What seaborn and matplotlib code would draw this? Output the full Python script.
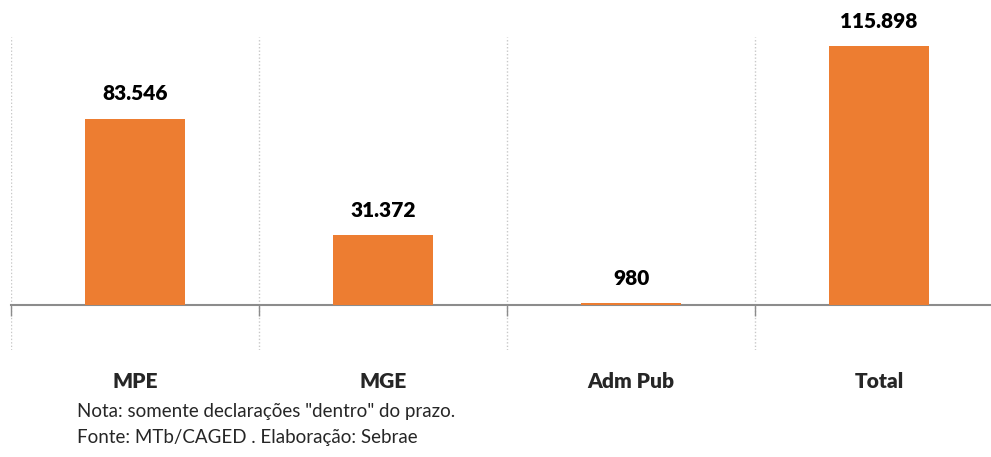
import matplotlib.pyplot as plt
import seaborn as sns
import pandas as pd

categories = ["MPE", "MGE", "Adm Pub", "Total"]
values = [83546, 31372, 980, 115898]
notes = ['Nota: somente declarações "dentro" do prazo.',
         'Fonte: MTb/CAGED . Elaboração: Sebrae']

df = pd.DataFrame({"categoria": categories, "valor": values})

sns.set_theme(style="white")
plt.rcParams['font.family'] = ['Lato', 'DejaVu Sans']

fig = plt.figure(figsize=(9.91, 4.57), dpi=100)
ax = fig.add_axes([11 / 991, 1 - 350 / 457, 992 / 991, 313 / 457])

sns.barplot(data=df, x="categoria", y="valor", color="#ED7D31",
            saturation=1, width=0.4, ax=ax, zorder=3, linewidth=0)

ax.set_ylim(-20000, 120000)
ax.set_xlim(-0.5, 3.5)

# value labels with brazilian thousands separator
labels = [f"{v:,}".replace(",", ".") for v in values]
ax.bar_label(ax.containers[0], labels=labels, padding=11,
             fontsize=15, fontweight="heavy", color="black")

# axis line at zero, ticks at category boundaries
for s in ["top", "right", "left"]:
    ax.spines[s].set_visible(False)
ax.spines["bottom"].set_position(("data", 0))
ax.spines["bottom"].set_color("#8c8c8c")
ax.spines["bottom"].set_linewidth(1.5)
ax.spines["bottom"].set_zorder(2)

ax.set_yticks([])
ax.set_xticks([-0.5, 0.5, 1.5, 2.5, 3.5], minor=True)
ax.tick_params(axis="x", which="minor", length=8, width=1, color="#8c8c8c",
               direction="out", bottom=True)
ax.tick_params(axis="x", which="major", length=0, pad=48)
ax.set_xticks(range(len(categories)))
ax.set_xticklabels(categories, fontsize=15, fontweight="heavy")
ax.grid(axis="x", which="minor", linestyle=(0, (1, 1.5)), color="#c8c8c8", linewidth=1)
ax.set_xlabel("")
ax.set_ylabel("")

fig.text(77 / 991, 1 - 411 / 457, notes[0], fontsize=13.5, va="center", ha="left")
fig.text(77 / 991, 1 - 438 / 457, notes[1], fontsize=13.5, va="center", ha="left")

fig.savefig("out.png", dpi=100)
